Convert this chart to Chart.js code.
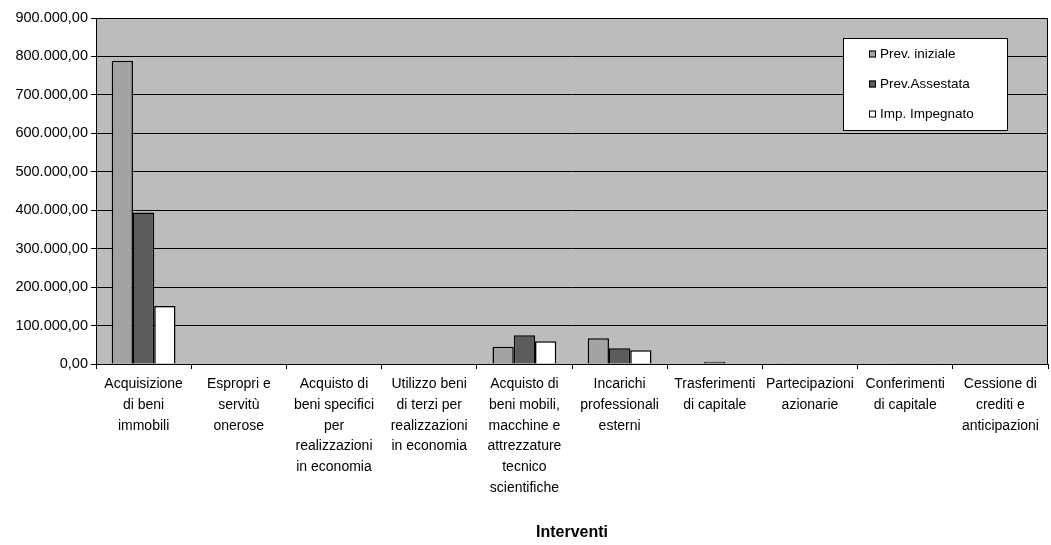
<!DOCTYPE html>
<html>
<head>
<meta charset="utf-8">
<script src="https://cdn.jsdelivr.net/npm/chart.js@4.4.0/dist/chart.umd.min.js"></script>
<style>
  html, body { margin: 0; padding: 0; background: #fff; }
  #wrap { width: 1051px; height: 545px; }
</style>
</head>
<body>
<div id="wrap"><canvas id="grafico"></canvas></div>
<script>
// categorie (etichette su più righe)
const categorie = [
  ['Acquisizione', 'di beni', 'immobili'],
  ['Espropri e', 'servitù', 'onerose'],
  ['Acquisto di', 'beni specifici', 'per', 'realizzazioni', 'in economia'],
  ['Utilizzo beni', 'di terzi per', 'realizzazioni', 'in economia'],
  ['Acquisto di', 'beni mobili,', 'macchine e', 'attrezzature', 'tecnico', 'scientifiche'],
  ['Incarichi', 'professionali', 'esterni'],
  ['Trasferimenti', 'di capitale'],
  ['Partecipazioni', 'azionarie'],
  ['Conferimenti', 'di capitale'],
  ['Cessione di', 'crediti e', 'anticipazioni']
];

const serie = ['Prev. iniziale', 'Prev.Assestata', 'Imp. Impegnato'];
const prevIniziale  = [789000, 0, 1500, 0, 45000, 67000, 0, 2000, 0, 0];
const prevAssestata = [394000, 0, 1500, 0, 75000, 41000, 6000, 0, 2000, 0];
const impImpegnato  = [151000, 0, 0, 0, 59000, 36000, 0, 0, 2000, 0];

const asseMin = 0, asseMax = 900000, passo = 100000;

const coloriSerie = ['#a3a3a3', '#5c5c5c', '#ffffff'];
const fontBase = '"Liberation Sans", Arial, sans-serif';

function formatta(v) {
  const s = Math.round(v).toString().replace(/\B(?=(\d{3})+(?!\d))/g, '.');
  return s + ',00';
}

// sfondo grigio dell'area del grafico e bordo
const sfondo = {
  id: 'sfondo',
  beforeDraw(chart) {
    const a = chart.chartArea, ctx = chart.ctx;
    ctx.save();
    ctx.fillStyle = '#bcbcbc';
    ctx.fillRect(a.left, a.top, a.right - a.left, a.bottom - a.top);
    ctx.restore();
  },
  afterDraw(chart) {
    const a = chart.chartArea, ctx = chart.ctx;
    ctx.save();
    ctx.strokeStyle = '#000';
    ctx.lineWidth = 1;
    ctx.strokeRect(a.left + 0.5, a.top + 0.5, a.right - a.left - 1, a.bottom - a.top);
    ctx.restore();
  }
};

// legenda dentro l'area del grafico
const legenda = {
  id: 'legenda',
  afterDraw(chart) {
    const a = chart.chartArea, ctx = chart.ctx;
    const x0 = a.right - 205, y0 = a.top + 20, w = 164, h = 92;
    ctx.save();
    ctx.fillStyle = '#fff';
    ctx.fillRect(x0, y0, w, h);
    ctx.strokeStyle = '#000';
    ctx.lineWidth = 1;
    ctx.strokeRect(x0 + 0.5, y0 + 0.5, w, h);
    ctx.font = '13.5px ' + fontBase;
    ctx.textBaseline = 'middle';
    chart.data.datasets.forEach((ds, i) => {
      const y = y0 + 16 + i * 30;
      ctx.fillStyle = ds.backgroundColor;
      ctx.fillRect(x0 + 26, y - 3.5, 7, 7);
      ctx.strokeStyle = '#000';
      ctx.strokeRect(x0 + 26.5, y - 3, 6, 6);
      ctx.fillStyle = '#000';
      ctx.fillText(ds.label, x0 + 37, y);
    });
    ctx.restore();
  }
};

const ctx = document.getElementById('grafico').getContext('2d');
new Chart(ctx, {
  type: 'bar',
  data: {
    labels: categorie,
    datasets: [
      { label: serie[0], data: prevIniziale, backgroundColor: coloriSerie[0] },
      { label: serie[1], data: prevAssestata, backgroundColor: coloriSerie[1] },
      { label: serie[2], data: impImpegnato, backgroundColor: coloriSerie[2] }
    ].map(d => Object.assign(d, {
      borderColor: '#000',
      borderWidth: 1.5,
      borderSkipped: 'bottom',
      categoryPercentage: 0.67,
      barPercentage: 1.0
    }))
  },
  options: {
    responsive: true,
    maintainAspectRatio: false,
    animation: false,
    layout: { padding: { top: 18, right: 3, left: 0, bottom: 0 } },
    plugins: {
      legend: { display: false },
      tooltip: { enabled: false }
    },
    scales: {
      x: {
        grid: {
          drawOnChartArea: false,
          drawTicks: true,
          tickLength: 5,
          color: '#000',
          offset: true
        },
        border: { color: '#000', width: 1 },
        ticks: {
          color: '#000',
          maxRotation: 0,
          autoSkip: false,
          padding: 5,
          font: { family: fontBase, size: 14, lineHeight: 1.48 }
        },
        title: {
          display: true,
          text: 'Interventi',
          color: '#000',
          padding: { top: 0, bottom: 3 },
          font: { family: fontBase, size: 16, weight: 'bold' }
        },
        afterFit(scale) { scale.height = 181; }
      },
      y: {
        min: asseMin,
        max: asseMax,
        grid: {
          color: '#000',
          lineWidth: 1,
          tickLength: 5
        },
        border: { color: '#000', width: 1 },
        ticks: {
          stepSize: passo,
          color: '#000',
          padding: 3,
          font: { family: fontBase, size: 14.5 },
          callback: v => formatta(v)
        },
        afterFit(scale) { scale.width = 96; }
      }
    }
  },
  plugins: [sfondo, legenda]
});
</script>
</body>
</html>
